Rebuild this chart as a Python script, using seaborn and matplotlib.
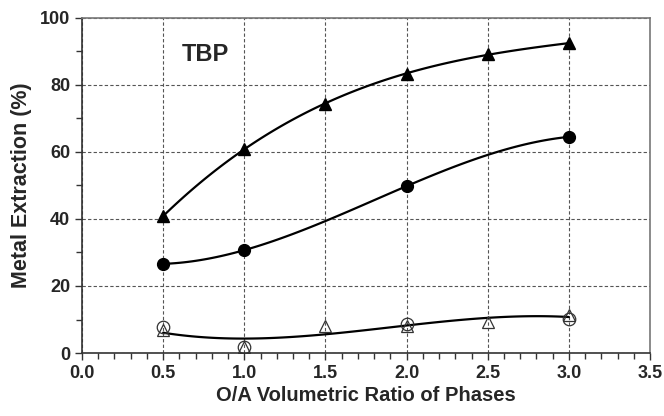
import numpy as np
import pandas as pd
import matplotlib
matplotlib.use('Agg')
import matplotlib.pyplot as plt
import seaborn as sns

# DATA

x_tri = [0.5, 1.0, 1.5, 2.0, 2.5, 3.0]
tri_filled = [40.8, 61.0, 74.4, 83.3, 89.2, 92.4]

x_circ = [0.5, 1.0, 2.0, 3.0]
circ_filled = [26.6, 30.7, 49.8, 64.5]

x_open_circ = [0.5, 1.0, 2.0, 3.0]
open_circ = [7.8, 1.9, 8.8, 10.2]

x_open_tri = [0.5, 1.0, 1.5, 2.0, 2.5, 3.0]
open_tri = [6.8, 1.8, 8.2, 8.0, 9.4, 11.2]

sns.set_style('ticks')
plt.rcParams['font.family'] = ['Liberation Sans', 'DejaVu Sans']
plt.rcParams['font.weight'] = 'bold'

fig = plt.figure(figsize=(6.64, 4.16), dpi=100)
ax = fig.add_axes([0.1235, 0.1514, 0.8555, 0.8056])

# fitted trend lines (polynomial fits)
line_kw = {'color': 'black', 'lw': 1.6}
sns.regplot(x=x_tri, y=tri_filled, order=3, ci=None, scatter=False,
            line_kws=line_kw, truncate=True, ax=ax)
sns.regplot(x=x_circ, y=circ_filled, order=3, ci=None, scatter=False,
            line_kws=line_kw, truncate=True, ax=ax)
sns.regplot(x=x_open_tri, y=open_tri, order=3, ci=None, scatter=False,
            line_kws=line_kw, truncate=True, ax=ax)

# markers
ax.plot(x_tri, tri_filled, '^', color='black', ms=9, zorder=5)
ax.plot(x_circ, circ_filled, 'o', color='black', ms=8.5, zorder=5)
ax.plot(x_open_circ, open_circ, 'o', mfc='none', mec='#333333', mew=0.9, ms=9, zorder=5)
ax.plot(x_open_tri, open_tri, '^', mfc='none', mec='#333333', mew=0.9, ms=9, zorder=5)

ax.set_xlim(0, 3.5)
ax.set_ylim(0, 100)
ax.set_xticks(np.arange(0, 3.51, 0.5))
ax.set_xticks(np.arange(0, 3.51, 0.1), minor=True)
ax.set_yticks(np.arange(0, 101, 20))
ax.set_yticks(np.arange(0, 101, 10), minor=True)
ax.xaxis.set_major_formatter(plt.FuncFormatter(lambda v, _: f'{v:.1f}'))

ax.grid(which='major', linestyle='--', color='#555555', lw=0.8, dashes=(3, 2))
ax.tick_params(which='both', direction='out', length=5, width=1, color='#333333',
               labelsize=13)
ax.tick_params(which='minor', length=4)

for s in ['left', 'bottom']:
    ax.spines[s].set_color('#333333')
    ax.spines[s].set_linewidth(1.2)
for s in ['top', 'right']:
    ax.spines[s].set_visible(True)
    ax.spines[s].set_color('#777777')
    ax.spines[s].set_linewidth(1.2)

ax.set_xlabel('O/A Volumetric Ratio of Phases', fontsize=14.5, fontweight='bold', labelpad=3)
ax.set_ylabel('Metal Extraction (%)', fontsize=15.5, fontweight='bold', labelpad=6)
ax.text(0.76, 89, 'TBP', fontsize=17, fontweight='bold', ha='center', va='center')

plt.savefig('out.png', dpi=100)
plt.close()
